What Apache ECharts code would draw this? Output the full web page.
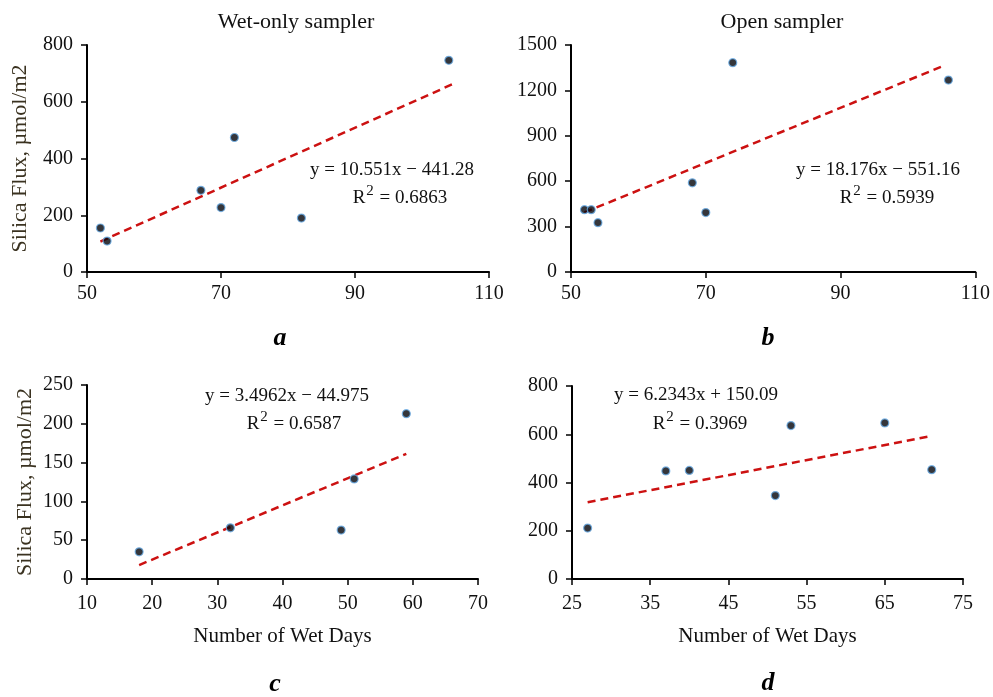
<!DOCTYPE html>
<html>
<head>
<meta charset="utf-8">
<script src="https://cdn.jsdelivr.net/npm/echarts@6/dist/echarts.min.js"></script>
<style>
html,body{margin:0;padding:0;background:#fff;}
#chart{width:993px;height:697px;}
</style>
</head>
<body>
<div id="chart"></div>
<script>
// ---- data ----
const pointsA = [[52,155],[53,109],[67,288],[70,227],[72,474],[82,190],[104,746]];
const pointsB = [[52,412],[53,412],[54,326],[68,589],[70,393],[74,1383],[106,1268]];
const pointsC = [[18,35],[32,66],[49,63],[51,129],[59,213]];
const pointsD = [[27,211],[37,448],[40,450],[51,346],[53,636],[65,647],[71,453]];
// trend line end points (consistent with displayed equations)
const trendA = [[52,107.4],[104.5,661.3]];
const trendB = [[52,394.0],[105.5,1366.4]];
const trendC = [[18,18.0],[59,161.3]];
const trendD = [[27,318.4],[71,592.7]];
const titles = ['Wet-only sampler','Open sampler'];
const equations = ['y = 10.551x \u2212 441.28','y = 18.176x \u2212 551.16','y = 3.4962x \u2212 44.975','y = 6.2343x + 150.09'];
const r2 = ['0.6863','0.5939','0.6587','0.3969'];
const panelLetters = ['a','b','c','d'];
const xRanges = [[50,110,20],[50,110,20],[10,70,10],[25,75,10]];
const yRanges = [[0,800,200],[0,1500,300],[0,250,50],[0,800,200]];
const yName = 'Silica Flux, \u00b5mol/m2';
const xName = 'Number of Wet Days';

// ---- layout ----
const FONT = '"Liberation Serif", "Times New Roman", serif';
const grids = [
  {left:87, top:45, width:402, height:227},
  {left:571, top:45, width:406, height:227},
  {left:87, top:385, width:391, height:194},
  {left:572, top:386, width:391, height:193}
];
const eqPos = [[392,170,400,196],[878,170,887,196],[287,396,294,422],[696,395,700,422]];
const letterPos = [[280,338],[768,338],[275,684],[768,683]];
const titlePos = [[296,22],[782,22]];

const xAxes = [], yAxes = [], series = [];
const pts = [pointsA,pointsB,pointsC,pointsD];
const trends = [trendA,trendB,trendC,trendD];
for (let i=0;i<4;i++){
  const lineCommon = {
    axisLine:{show:true,onZero:false,lineStyle:{color:'#000',width:2}},
    axisTick:{show:true,inside:false,length:6,lineStyle:{color:'#000',width:1.5}},
    splitLine:{show:false}
  };
  xAxes.push(Object.assign({}, lineCommon, {
    type:'value', gridIndex:i, min:xRanges[i][0], max:xRanges[i][1], interval:xRanges[i][2],
    axisLabel:{color:'#111',fontFamily:FONT,fontSize:20,margin: i>=2 ? 15 : 12,formatter:(v)=>String(v)},
    name: i>=2 ? xName : '', nameLocation:'middle', nameGap:47,
    nameTextStyle:{color:'#111',fontFamily:FONT,fontSize:21}
  }));
  yAxes.push(Object.assign({}, lineCommon, {
    type:'value', gridIndex:i, min:yRanges[i][0], max:yRanges[i][1], interval:yRanges[i][2],
    axisLabel:{color:'#111',fontFamily:FONT,fontSize:20,margin:14,formatter:(v)=>String(v)},
    name: (i===0||i===2) ? yName : '', nameLocation:'middle', nameRotate:90,
    nameGap: i===0 ? 56 : 51,
    nameTextStyle:{color:'#3a3220',fontFamily:FONT,fontSize:22}
  }));
  series.push({
    type:'line', xAxisIndex:i, yAxisIndex:i, data:trends[i], symbol:'none', silent:true,
    lineStyle:{color:'#cc1111',width:2.5,type:[8,5]}, z:2
  });
  series.push({
    type:'scatter', xAxisIndex:i, yAxisIndex:i, data:pts[i], symbol:'circle', symbolSize:8,
    itemStyle:{color:'#02040a',borderColor:'#6aaee8',borderWidth:1.2}, z:3
  });
}

const graphics = [];
titles.forEach((t,i)=>{
  graphics.push({type:'text', style:{
    text:t, x:titlePos[i][0], y:titlePos[i][1], fill:'#111', font:'22px '+FONT,
    textAlign:'center', textVerticalAlign:'middle'}});
});
for (let i=0;i<4;i++){
  graphics.push({type:'text', style:{text:equations[i], x:eqPos[i][0], y:eqPos[i][1],
    fill:'#111', font:'19px '+FONT, textAlign:'center', textVerticalAlign:'middle'}});
  graphics.push({type:'text', style:{
    text:'{a|R}{s|2}{a| = '+r2[i]+'}', x:eqPos[i][2], y:eqPos[i][3],
    textAlign:'center', textVerticalAlign:'middle',
    rich:{a:{fill:'#111',fontFamily:FONT,fontSize:19,lineHeight:24,verticalAlign:'bottom'},
          s:{fill:'#111',fontFamily:FONT,fontSize:15,lineHeight:24,verticalAlign:'bottom',padding:[0,1,9,1]}}
  }});
  graphics.push({type:'text', style:{text:panelLetters[i], x:letterPos[i][0], y:letterPos[i][1],
    fill:'#000', font:'italic bold 26px '+FONT, textAlign:'center', textVerticalAlign:'middle'}});
}

const chart = echarts.init(document.getElementById('chart'), null, {renderer:'canvas'});
chart.setOption({
  animation:false,
  backgroundColor:'#fff',
  grid:grids,
  xAxis:xAxes,
  yAxis:yAxes,
  series:series,
  graphic:graphics
});
</script>
</body>
</html>
